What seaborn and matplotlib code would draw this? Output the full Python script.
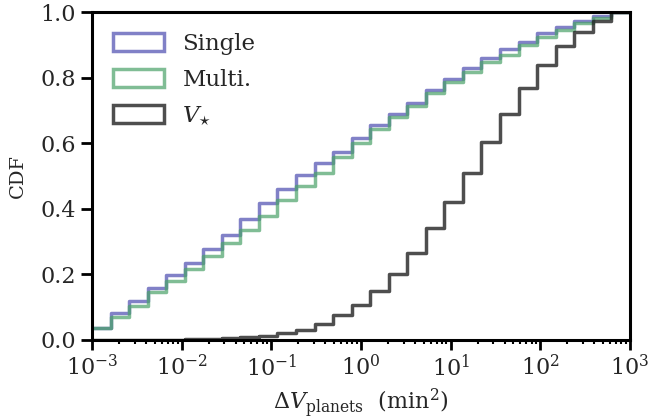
import numpy as np
import pandas as pd
import matplotlib
matplotlib.use("Agg")
import matplotlib.pyplot as plt
import matplotlib.patches as mpatches
import seaborn as sns

# log-spaced bins: 29 bins spanning 10^-3 .. 10^3
log_range = (-3, 3)
n_bins = 29
bin_edges = np.logspace(log_range[0], log_range[1], n_bins + 1)

# CDF value reached in each bin
cdf_single = [0.038, 0.081, 0.119, 0.159, 0.197, 0.235, 0.278, 0.320, 0.368,
              0.417, 0.460, 0.503, 0.539, 0.574, 0.617, 0.655, 0.690, 0.724,
              0.763, 0.797, 0.830, 0.860, 0.889, 0.909, 0.937, 0.955, 0.974,
              0.988, 1.000]
cdf_multi = [0.038, 0.069, 0.104, 0.146, 0.181, 0.217, 0.257, 0.296, 0.336,
             0.378, 0.426, 0.470, 0.511, 0.558, 0.601, 0.643, 0.680, 0.714,
             0.753, 0.787, 0.818, 0.848, 0.871, 0.899, 0.926, 0.946, 0.967,
             0.982, 1.000]
cdf_vstar = [0.000, 0.000, 0.000, 0.0005, 0.001, 0.002, 0.003, 0.005, 0.008,
             0.013, 0.021, 0.030, 0.050, 0.075, 0.106, 0.151, 0.201, 0.265,
             0.341, 0.421, 0.510, 0.603, 0.690, 0.769, 0.839, 0.898, 0.940,
             0.974, 1.000]

labels = ["Single", "Multi.", r"$V_{\star}$"]
colors = ["#4c4cb0", "#4aa269", "#222222"]
alphas = [0.7, 0.7, 0.8]

sns.set_theme(style="ticks")
plt.rcParams["font.family"] = ["DejaVu Serif"]
plt.rcParams["mathtext.fontset"] = "dejavuserif"

centers = np.sqrt(bin_edges[:-1] * bin_edges[1:])
frames = []
for lab, cdf in zip(labels, [cdf_single, cdf_multi, cdf_vstar]):
    frames.append(pd.DataFrame({"x": centers, "w": cdf, "series": lab}))
df = pd.concat(frames, ignore_index=True)

fig = plt.figure(figsize=(6.5, 4.2), dpi=100)
ax = fig.add_axes([0.1415, 0.1905, 0.8275, 0.780])

for lab, col, a in zip(labels, colors, alphas):
    sub = df[df["series"] == lab]
    sns.histplot(data=sub, x="x", weights="w", bins=n_bins, binrange=log_range,
                 log_scale=True, element="step", fill=False, color=col,
                 alpha=a, linewidth=2.5, ax=ax, legend=False)

ax.set_xlim(1e-3, 1e3)
ax.set_ylim(0, 1.0)
ax.set_yticks([0.0, 0.2, 0.4, 0.6, 0.8, 1.0])
ax.set_yticklabels(["0.0", "0.2", "0.4", "0.6", "0.8", "1.0"])

ax.set_xlabel(r"$\Delta V_{\rm planets}$  (min$^2$)", fontsize=16, labelpad=4)
ax.set_ylabel("CDF", fontsize=14, labelpad=10)

for s in ax.spines.values():
    s.set_linewidth(2.2)
    s.set_color("black")
ax.tick_params(axis="y", which="major", length=8, width=2, labelsize=16,
               direction="out", color="black")
ax.tick_params(axis="x", which="major", length=7, width=2, labelsize=16,
               direction="out", color="black")
ax.tick_params(axis="x", which="minor", length=3, width=1.5, direction="out",
               color="black")

handles = [mpatches.Patch(facecolor="none", edgecolor=c, alpha=a, linewidth=2.5)
           for c, a in zip(colors, alphas)]
ax.legend(handles, labels, loc="upper left", frameon=False, fontsize=16.5,
          handlelength=2.25, handleheight=0.85, labelspacing=0.6,
          handletextpad=0.8, borderaxespad=0.5)

fig.savefig("out.png", dpi=100)
